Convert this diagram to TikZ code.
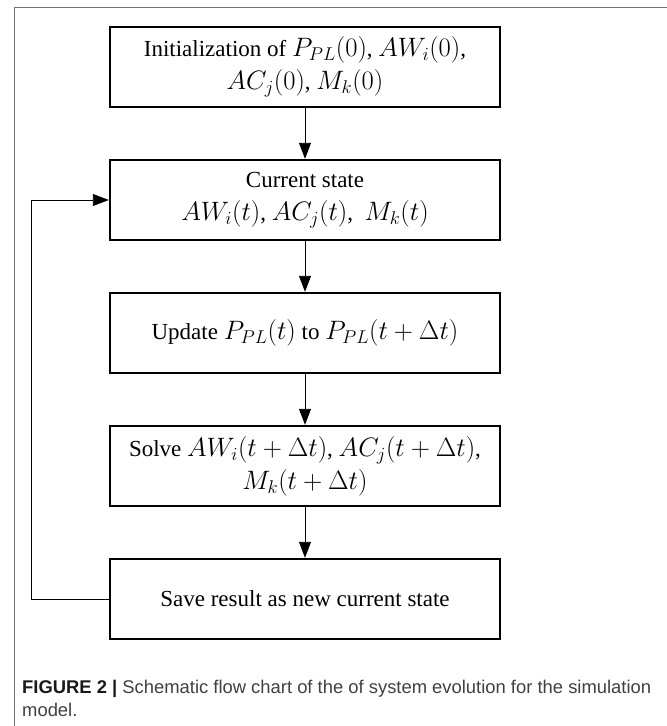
\documentclass[tikz,border=0pt]{standalone}
\usepackage{fontspec}
\setmainfont{Liberation Serif}
\newfontfamily\capfont{Liberation Sans}
\usetikzlibrary{arrows.meta}

% formulas are set a little larger than the surrounding words
\newcommand\mth[1]{\scalebox{1.07}{$#1$}}

\tikzset{
  stepbox/.style={draw, line width=2.4pt, minimum width=390pt, minimum height=80pt,
    inner sep=0pt, align=center, font=\fontsize{23}{33}\selectfont},
  link/.style={line width=0.9pt, -{Triangle[width=12pt,length=16pt]}},
  captext/.style={anchor=base west, inner sep=0pt, text=black!75,
    font=\capfont\fontsize{18.4}{23}\selectfont},
}

\begin{document}
\begin{tikzpicture}[x=1pt, y=-1pt]
  \useasboundingbox (0,0) rectangle (667,726);
  % figure frame
  \draw[black!55, line width=1pt] (14,726) -- (14,7) -- (667,7);

  % process steps
  \node[stepbox] (init) at (305,67)
    {Initialization of \mth{P_{PL}(0)}, \mth{AW_i(0)},\\ \mth{AC_j(0)}, \mth{M_k(0)}};
  \node[stepbox] (cur) at (305,200)
    {Current state\\ \mth{AW_i(t)}, \mth{AC_j(t)}, \ \mth{M_k(t)}};
  \node[stepbox] (upd) at (305,333)
    {Update \mth{P_{PL}(t)} to \mth{P_{PL}(t+\Delta t)}};
  \node[stepbox] (solve) at (305,466)
    {Solve \mth{AW_i(t+\Delta t)}, \mth{AC_j(t+\Delta t)},\\ \mth{M_k(t+\Delta t)}};
  \node[stepbox] (save) at (305,599)
    {Save result as new current state};

  % flow
  \draw[link] (init) -- (cur);
  \draw[link] (cur) -- (upd);
  \draw[link] (upd) -- (solve);
  \draw[link] (solve) -- (save);
  \draw[link] (save.west) -- ++(-77,0) |- (cur.west);

  % caption
  \node[captext] (cap1) at (22,693)
    {\textbf{\color{black!90}FIGURE 2 |} Schematic flow chart of the of system evolution for the simulation};
  \node[captext] (cap2) at (22,716) {model.};
\end{tikzpicture}
\end{document}
